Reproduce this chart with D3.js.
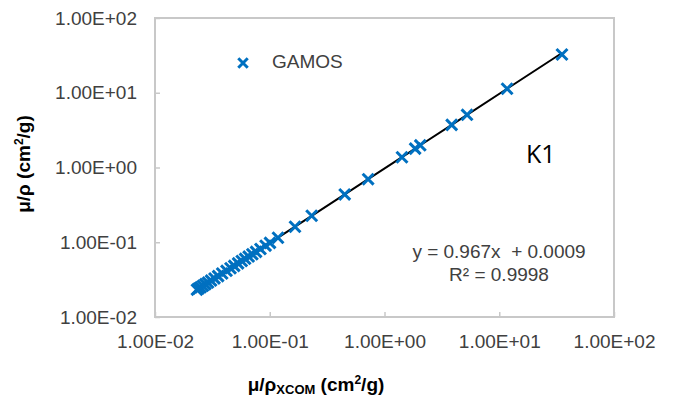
<html>
  <head>
    <script src="https://d3js.org/d3.v7.min.js"></script>
    <style>
      body {
        margin: 0;
        background: #fff;
      }
      text {
        font-family: "Liberation Sans", Arial, sans-serif;
      }
    </style>
  </head>
  <body>
    <svg id="chart" width="684" height="398"></svg>
    <script>
      // values: XCOM (x) vs GAMOS (y) mass attenuation coefficients
      const xcom = [
        0.0232, 0.024, 0.025, 0.0262, 0.0275, 0.029, 0.0308, 0.033, 0.0355,
        0.0385, 0.042, 0.0455, 0.049, 0.053, 0.057, 0.061, 0.0655, 0.0705,
        0.076, 0.083, 0.092, 0.1005, 0.118, 0.166, 0.232, 0.45, 0.72, 1.42,
        1.85, 2.05, 3.85, 5.24, 11.7, 35.2,
      ];
      const gamos = [
        0.0232, 0.0241, 0.025, 0.0262, 0.0275, 0.0289, 0.0307, 0.0328, 0.0352,
        0.0382, 0.0415, 0.0449, 0.0483, 0.0522, 0.0561, 0.06, 0.0643, 0.0691,
        0.0744, 0.0812, 0.0899, 0.0981, 0.115, 0.161, 0.226, 0.436, 0.698,
        1.37, 1.79, 1.98, 3.72, 5.07, 11.3, 32.5,
      ];
      const tickVals = [0.01, 0.1, 1, 10, 100];
      const seriesName = "GAMOS";
      const fit = { slope: 0.967, intercept: 0.0009, r2: 0.9998 };

      const svg = d3.select("#chart");
      const plotLeft = 155,
        plotRight = 614,
        plotTop = 18,
        plotBottom = 317;

      const x = d3.scaleLog().domain([0.01, 100]).range([plotLeft, plotRight]);
      const y = d3.scaleLog().domain([0.01, 100]).range([plotBottom, plotTop]);

      // Excel style 1.00E+02 labels
      const fmt = (d) => {
        const e = Math.round(Math.log10(d));
        const sign = e < 0 ? "-" : "+";
        return "1.00E" + sign + String(Math.abs(e)).padStart(2, "0");
      };

      const blue = "#0070C0";
      const grey = "#c8c8c8";
      const textGrey = "#404040";

      // plot area frame
      svg
        .append("rect")
        .attr("x", plotLeft)
        .attr("y", plotTop)
        .attr("width", plotRight - plotLeft)
        .attr("height", plotBottom - plotTop)
        .attr("fill", "none")
        .attr("stroke", grey)
        .attr("stroke-width", 2);

      const xAxis = svg
        .append("g")
        .attr("transform", `translate(0,${plotBottom})`)
        .call(
          d3.axisBottom(x).tickValues(tickVals).tickFormat(fmt).tickSize(-5).tickPadding(18)
        );
      const yAxis = svg
        .append("g")
        .attr("transform", `translate(${plotLeft},0)`)
        .call(
          d3.axisLeft(y).tickValues(tickVals).tickFormat(fmt).tickSize(-5).tickPadding(18)
        );

      [xAxis, yAxis].forEach((g) => {
        g.select(".domain").remove();
        g.selectAll(".tick line").attr("stroke", grey).attr("stroke-width", 1.5);
        g.selectAll(".tick text")
          .attr("fill", textGrey)
          .style("font-size", "19px")
          .style("font-family", "'Liberation Sans', Arial, sans-serif");
      });

      // trendline y = 0.967x + 0.0009 over the data range
      const trend = xcom
        .slice()
        .sort((a, b) => a - b)
        .map((v) => [v, fit.slope * v + fit.intercept]);
      svg
        .append("path")
        .datum(trend)
        .attr("fill", "none")
        .attr("stroke", "#000")
        .attr("stroke-width", 2)
        .attr(
          "d",
          d3
            .line()
            .x((d) => x(d[0]))
            .y((d) => y(d[1]))
        );

      // cross markers
      const cross = d3.symbol().type(d3.symbolX).size(80);
      svg
        .selectAll("path.pt")
        .data(xcom.map((v, i) => [v, gamos[i]]))
        .join("path")
        .attr("class", "pt")
        .attr("d", cross)
        .attr("transform", (d) => `translate(${x(d[0])},${y(d[1])})`)
        .attr("fill", "none")
        .attr("stroke", blue)
        .attr("stroke-width", 3);

      // legend
      svg
        .append("path")
        .attr("d", d3.symbol().type(d3.symbolX).size(60)())
        .attr("transform", "translate(243,63)")
        .attr("fill", "none")
        .attr("stroke", blue)
        .attr("stroke-width", 3);
      svg
        .append("text")
        .attr("x", 272)
        .attr("y", 68)
        .attr("fill", textGrey)
        .style("font-size", "19px")
        .text(seriesName);

      // equation
      svg
        .append("text")
        .attr("x", 499)
        .attr("y", 258)
        .attr("text-anchor", "middle")
        .attr("fill", textGrey)
        .attr("xml:space", "preserve")
        .style("font-size", "19px")
        .text(`y = ${fit.slope}x  + ${fit.intercept}`);
      svg
        .append("text")
        .attr("x", 499)
        .attr("y", 281)
        .attr("text-anchor", "middle")
        .attr("fill", textGrey)
        .style("font-size", "19px")
        .text(`R² = ${fit.r2}`);

      svg
        .append("text")
        .attr("x", 526)
        .attr("y", 163)
        .attr("fill", "#000")
        .style("font-size", "25px")
        .style("font-family", "'Open Sans', sans-serif")
        .text("K1");

      // axis titles
      const yt = svg
        .append("text")
        .attr("transform", "translate(30,164) rotate(-90)")
        .attr("text-anchor", "middle")
        .attr("fill", "#000")
        .style("font-size", "19px")
        .style("font-weight", "bold");
      yt.append("tspan").text("μ/ρ (cm");
      yt.append("tspan").attr("font-size", "12px").attr("dy", "-7").text("2");
      yt.append("tspan").attr("dy", "7").text("/g)");

      const xt = svg
        .append("text")
        .attr("x", 316)
        .attr("y", 391)
        .attr("text-anchor", "middle")
        .attr("fill", "#000")
        .style("font-size", "19px")
        .style("font-weight", "bold");
      xt.append("tspan").text("μ/ρ");
      xt.append("tspan").attr("font-size", "13px").attr("dy", "3").text("XCOM");
      xt.append("tspan").attr("dy", "-3").text(" (cm");
      xt.append("tspan").attr("font-size", "12px").attr("dy", "-7").text("2");
      xt.append("tspan").attr("dy", "7").text("/g)");
    </script>
  </body>
</html>
